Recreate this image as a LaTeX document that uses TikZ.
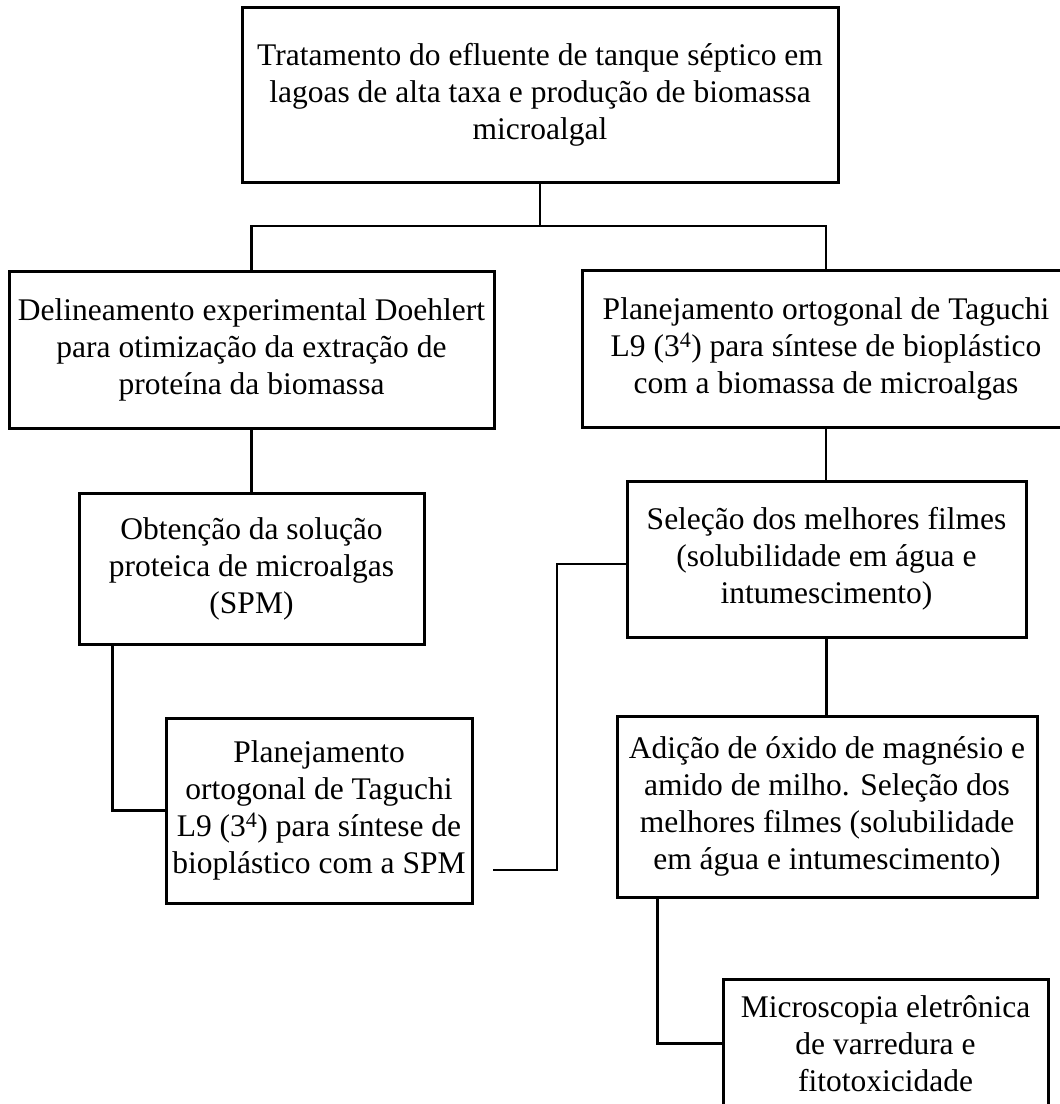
\documentclass[tikz,border=0pt]{standalone}
\usepackage{fontspec}
\setmainfont{Liberation Serif}
\begin{document}
\begin{tikzpicture}[x=1pt,y=-1pt,
  boxnode/.style={draw=black, line width=3pt, inner sep=0pt, align=center,
    font=\fontsize{31.5pt}{37pt}\selectfont},
  link/.style={draw=black, line width=2.5pt}]
\useasboundingbox (0,0) rectangle (1060,1104);
\clip (0,0) rectangle (1060,1104);
\fill[white] (0,0) rectangle (1060,1104);

\node[boxnode, minimum width=596pt, minimum height=175pt] (top) at (540,94.5)
  {Tratamento do efluente de tanque séptico em\\lagoas de alta taxa e produção de biomassa\\microalgal};
\node[boxnode, minimum width=485pt, minimum height=157pt] (L1) at (251.5,349.5)
  {Delineamento experimental Doehlert\\para otimização da extração de\\proteína da biomassa};
\node[boxnode, minimum width=487pt, minimum height=157pt] (R1) at (826,348.5)
  {Planejamento ortogonal de Taguchi\\L9 (3\textsuperscript{4}) para síntese de bioplástico\\com a biomassa de microalgas};
\node[boxnode, minimum width=345pt, minimum height=151pt] (L2) at (251.5,568.5)
  {Obtenção da solução\\proteica de microalgas\\(SPM)};
\node[boxnode, minimum width=399pt, minimum height=156pt] (R2) at (826.5,559)
  {Seleção dos melhores filmes\\(solubilidade em água e\\intumescimento)};
\node[boxnode, minimum width=306pt, minimum height=185pt] (L3) at (319,810.5)
  {Planejamento\\ortogonal de Taguchi\\L9 (3\textsuperscript{4}) para síntese de\\bioplástico com a SPM};
\node[boxnode, minimum width=420pt, minimum height=181pt] (R3) at (827,806.5)
  {Adição de óxido de magnésio e\\amido de milho. Seleção dos\\melhores filmes (solubilidade\\em água e intumescimento)};
\node[boxnode, minimum width=325pt, minimum height=129pt] (R4) at (885.5,1043.5)
  {Microscopia eletrônica\\de varredura e\\fitotoxicidade};

\coordinate (bus) at (0,226);
\coordinate (s2) at (493,870);
\coordinate (k2) at (557,870);

\draw[link] (top.south) -- (top.south |- bus);
\draw[link] (L1.north) -- (L1.north |- bus) -- (R1.north |- bus) -- (R1.north);
\draw[link] (L1.south) -- (L1.south |- L2.north);
\draw[link] (R1.south) -- (R1.south |- R2.north);
\draw[link] ([xshift=35pt]L2.south west) |- (L3.west);
\draw[link] (s2) -- (k2) |- ([yshift=-5pt]R2.west);
\draw[link] (R2.south) -- (R2.south |- R3.north);
\draw[link] ([xshift=42pt]R3.south west) |- (R4.west);
\end{tikzpicture}
\end{document}
